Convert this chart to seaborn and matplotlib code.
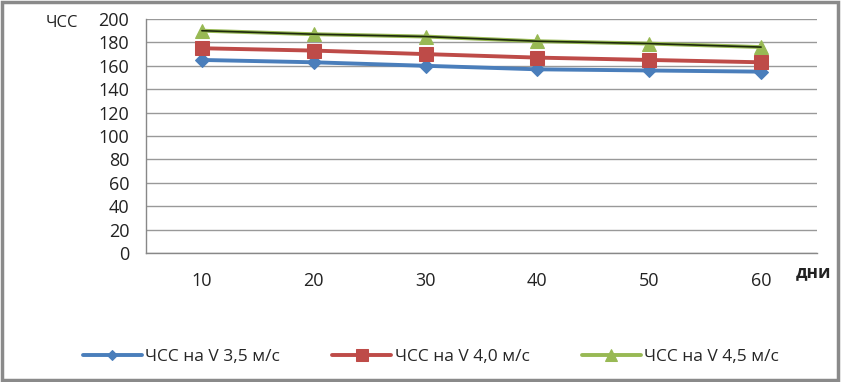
import matplotlib
matplotlib.use('Agg')
import matplotlib.pyplot as plt
from matplotlib.patches import Rectangle
import seaborn as sns
import pandas as pd

# данные
days = [10, 20, 30, 40, 50, 60]
hr_35 = [165, 163, 160, 157, 156, 155]
hr_40 = [175, 173, 170, 167, 165, 163]
hr_45 = [190, 187, 185, 181, 179, 176]
labels = ['ЧСС на V 3,5 м/с', 'ЧСС на V 4,0 м/с', 'ЧСС на V 4,5 м/с']

sns.set_style('white')
plt.rcParams['font.family'] = ['Open Sans', 'DejaVu Sans']

fig = plt.figure(figsize=(8.43, 3.82), dpi=100)
ax = fig.add_axes([146 / 843, 1 - 253 / 382, (817 - 146) / 843, (253 - 19) / 382])

df = pd.DataFrame({'days': days, 'a': hr_35, 'b': hr_40, 'c': hr_45})

sns.lineplot(data=df, x='days', y='a', ax=ax, color='#4a7ebb', lw=2.8,
             marker='D', markersize=7, markeredgecolor='#4a7ebb', label=labels[0])
sns.lineplot(data=df, x='days', y='b', ax=ax, color='#be4b48', lw=2.8,
             marker='s', markersize=10, markeredgecolor='#be4b48', label=labels[1])
sns.lineplot(data=df, x='days', y='c', ax=ax, color='#98b954', lw=2.8,
             marker='^', markersize=10, markeredgecolor='#98b954', label=labels[2])
# тёмная тонкая линия поверх зелёной серии
ax.plot(days, hr_45, color='#1e2a0c', lw=1.2, zorder=5)

ax.set_xlim(5, 65)
ax.set_ylim(0, 200)
ax.set_yticks(range(0, 201, 20))
ax.set_xticks(days)
ax.set_xticks([5, 15, 25, 35, 45, 55, 65], minor=True)
ax.tick_params(axis='x', which='major', length=0, pad=14, labelsize=13, colors='#222222')
ax.tick_params(axis='x', which='minor', length=5, width=1, color='#888888', direction='out')
ax.tick_params(axis='y', length=5, width=1, color='#888888', direction='out',
               labelsize=13, colors='#222222', pad=7)
ax.grid(axis='y', color='#999999', lw=1)
for s in ['top', 'right']:
    ax.spines[s].set_visible(False)
for s in ['left', 'bottom']:
    ax.spines[s].set_color('#888888')
    ax.spines[s].set_linewidth(1)
ax.set_xlabel('')
ax.set_ylabel('')

fig.text(62 / 843, 1 - 23 / 382, 'ЧСС', ha='center', va='center', fontsize=12, color='#222222')
fig.text(813 / 843, 1 - 272 / 382, 'дни', ha='center', va='center', fontsize=12.5,
         fontweight='bold', color='#222222')

handles, labs = ax.get_legend_handles_labels()
ax.legend(handles[:3], labs[:3], loc='center', bbox_to_anchor=(431 / 843, 1 - 357 / 382),
          bbox_transform=fig.transFigure, ncol=3, frameon=False, fontsize=12.5,
          handlelength=3.4, columnspacing=3.0, handletextpad=0.2, markerscale=0.8)

fig.patches.append(Rectangle((0.002, 0.004), 0.992, 0.99, transform=fig.transFigure,
                             fill=False, edgecolor='#8a8a8a', lw=2.5))

fig.savefig('out.png', dpi=100)
